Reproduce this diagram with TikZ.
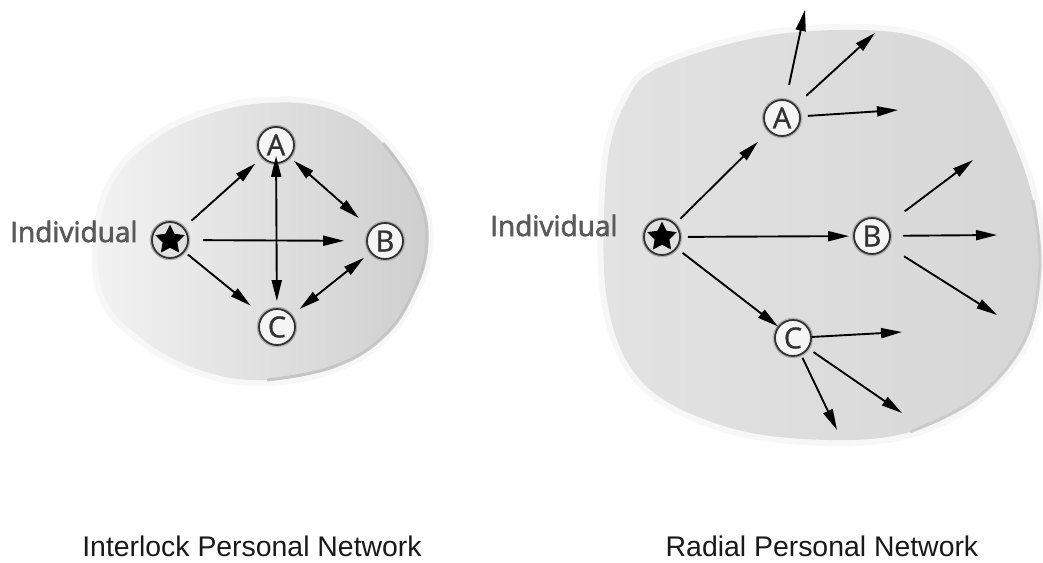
\documentclass[tikz,border=0pt]{standalone}
\usepackage{fontspec}
\setmainfont{Liberation Sans}
\newfontfamily\indfont[FakeBold=2.2]{Open Sans}
\newfontfamily\letfont[FakeBold=1]{Open Sans}
\usetikzlibrary{arrows.meta,shapes.geometric}
\begin{document}
\begin{tikzpicture}[x=1pt,y=-1pt,
  lettnode/.style={circle,draw=black!80,line width=1.8pt,fill=black!4,minimum size=36pt,inner sep=0pt,
     font=\letfont\fontsize{29}{29}\selectfont,text=black!80,
     preaction={draw=black!30,line width=4.5pt}},
  starnode/.style={circle,draw=black!80,line width=1.8pt,fill=black!12,minimum size=36pt,inner sep=0pt,
     preaction={draw=black!30,line width=4.5pt}},
  starfill/.style={star,star points=5,star point ratio=2.0,fill=black,minimum size=31pt,inner sep=0pt},
  conn/.style={line width=1.9pt,draw=black,-{Triangle[length=21pt,width=10pt]}},
  both/.style={line width=1.9pt,draw=black,{Triangle[length=21pt,width=10pt]}-{Triangle[length=21pt,width=10pt]}},
  lbl/.style={font=\indfont\fontsize{28}{28}\selectfont,text=black!65,anchor=base west,inner sep=0pt},
  title/.style={font=\fontsize{28.4}{30}\selectfont,text=black!90,anchor=base,inner sep=0pt}
]
\useasboundingbox (0,0) rectangle (1043,562);
\fill[white] (0,0) rectangle (1043,562);

% ---------- left blob ----------
\def\leftblob{plot[smooth cycle,tension=0.7] coordinates {(150,143) (200,117) (267,103) (333,110) (383,143) (417,193) (427,243) (413,293) (383,337) (333,367) (267,380) (200,370) (140,337) (103,293) (100,227) (117,177)}}
\draw[black!8,line width=12pt,opacity=0.4] \leftblob;
\path[left color=black!5,right color=black!19] \leftblob;
\draw[black!25,line width=3pt,opacity=0.8] plot[smooth,tension=0.7] coordinates {(383,143) (417,193) (427,243) (413,293) (383,337) (333,367) (267,380)};

% ---------- right blob ----------
\def\rightblob{plot[smooth cycle,tension=0.6] coordinates {(660,67) (760,37) (860,30) (927,40) (977,73) (1010,133) (1033,200) (1040,267) (1025,340) (977,398) (910,432) (827,440) (727,427) (643,383) (607,300) (607,167) (627,100)}}
\draw[black!8,line width=12pt,opacity=0.4] \rightblob;
\path[left color=black!11,right color=black!16] \rightblob;
\draw[black!22,line width=3pt,opacity=0.8] plot[smooth,tension=0.6] coordinates {(1033,200) (1040,267) (1025,340) (977,398) (910,432)};

% ---------- left network ----------
\node[starnode] (s1) at (170,240) {};
\node[starfill] at (s1) {};
\node[lettnode] (A1) at (276,145) {A};
\node[lettnode] (B1) at (385,241) {B};
\node[lettnode] (C1) at (277,327) {C};
\node[lbl] (ind1) at (10,242) {Individual};

\draw[conn,shorten <=10pt,shorten >=9pt] (s1) -- (A1);
\draw[conn,shorten <=14pt,shorten >=22pt] (s1) -- (B1);
\draw[conn,shorten <=4pt,shorten >=15pt] (s1) -- (C1);
\draw[both,shorten <=-8pt,shorten >=7pt] (A1) -- (C1);
\draw[both,shorten <=5pt,shorten >=16pt] (A1) -- (B1);
\draw[both,shorten <=8pt,shorten >=10pt] (B1) -- (C1);

% ---------- right network ----------
\node[starnode] (s2) at (662,237) {};
\node[starfill] at (s2) {};
\node[lettnode] (A2) at (782,118) {A};
\node[lettnode] (B2) at (872,236) {B};
\node[lettnode] (C2) at (793,338) {C};
\node[lbl] (ind2) at (490,236) {Individual};

\coordinate (a2u) at (805,10);
\coordinate (a2d) at (875,33);
\coordinate (a2r) at (898,110);
\coordinate (b2u) at (973,160);
\coordinate (b2r) at (997,235);
\coordinate (b2d) at (997,315);
\coordinate (c2r) at (902,332);
\coordinate (c2d) at (902,413);
\coordinate (c2b) at (837,430);

\draw[conn,shorten <=7pt,shorten >=15pt] (s2) -- (A2);
\draw[conn,shorten <=7pt,shorten >=4pt] (s2) -- (B2);
\draw[conn,shorten <=7pt,shorten >=0pt] (s2) -- (C2);

\draw[conn,shorten <=15pt] (A2) -- (a2u);
\draw[conn,shorten <=14pt] (A2) -- (a2d);
\draw[conn,shorten <=7pt] (A2.5) -- (a2r);
\draw[conn,shorten <=22pt] (B2) -- (b2u);
\draw[conn,shorten <=12pt] (B2) -- (b2r);
\draw[conn,shorten <=19pt] (B2) -- (b2d);
\draw[conn,shorten <=0pt] (C2) -- (c2r);
\draw[conn,shorten <=6pt] (C2) -- (c2d);
\draw[conn,shorten <=3pt] (C2) -- (c2b);

% ---------- titles ----------
\node[title] (t1) at (252,556) {Interlock Personal Network};
\node[title] (t2) at (822,556) {Radial Personal Network};
\end{tikzpicture}
\end{document}
